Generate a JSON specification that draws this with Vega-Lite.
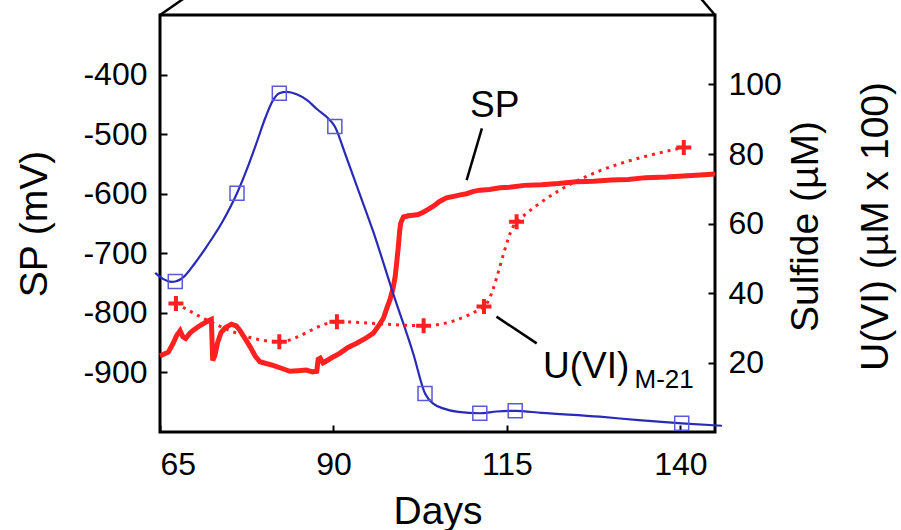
{
  "$schema": "https://vega.github.io/schema/vega-lite/v6.json",
  "width": 555,
  "height": 417,
  "autosize": {"type": "none"},
  "padding": {"left": 160, "top": 15, "right": 186, "bottom": 98},
  "background": "white",
  "config": {
    "font": "Liberation Sans",
    "view": {"stroke": "black", "strokeWidth": 3},
    "axis": {
      "grid": false,
      "domain": false,
      "tickColor": "black",
      "tickWidth": 2,
      "labelColor": "black",
      "titleColor": "black",
      "labelFontSize": 32,
      "titleFontSize": 39,
      "titleFontWeight": "normal",
      "labelFont": "Liberation Sans",
      "titleFont": "Liberation Sans"
    }
  },
  "datasets": {
    "sp": [
      {"day": 65.0, "mv": -872}, {"day": 65.25, "mv": -871}, {"day": 66.2, "mv": -866}, {"day": 66.9, "mv": -851},
      {"day": 67.4, "mv": -838}, {"day": 67.9, "mv": -830}, {"day": 68.3, "mv": -840}, {"day": 68.7, "mv": -843},
      {"day": 69.3, "mv": -834}, {"day": 69.8, "mv": -829}, {"day": 70.7, "mv": -822}, {"day": 71.7, "mv": -815},
      {"day": 72.4, "mv": -811}, {"day": 72.6, "mv": -880}, {"day": 72.9, "mv": -872}, {"day": 73.3, "mv": -850},
      {"day": 73.8, "mv": -833}, {"day": 74.4, "mv": -825}, {"day": 75.3, "mv": -819}, {"day": 76.0, "mv": -822},
      {"day": 76.5, "mv": -829}, {"day": 77.2, "mv": -842}, {"day": 78.0, "mv": -857}, {"day": 78.7, "mv": -872},
      {"day": 79.4, "mv": -882}, {"day": 80.3, "mv": -885}, {"day": 81.3, "mv": -888}, {"day": 82.5, "mv": -893},
      {"day": 83.7, "mv": -898}, {"day": 84.9, "mv": -897}, {"day": 86.1, "mv": -896}, {"day": 87.0, "mv": -899},
      {"day": 87.6, "mv": -898}, {"day": 87.8, "mv": -878}, {"day": 88.1, "mv": -876}, {"day": 88.5, "mv": -884},
      {"day": 88.8, "mv": -882}, {"day": 89.8, "mv": -875}, {"day": 90.9, "mv": -868}, {"day": 92.1, "mv": -858},
      {"day": 93.35, "mv": -851}, {"day": 94.6, "mv": -843}, {"day": 95.75, "mv": -834}, {"day": 96.5, "mv": -822},
      {"day": 97.2, "mv": -809}, {"day": 97.7, "mv": -792}, {"day": 98.15, "mv": -778}, {"day": 98.6, "mv": -758},
      {"day": 98.9, "mv": -739}, {"day": 99.15, "mv": -712}, {"day": 99.35, "mv": -689}, {"day": 99.55, "mv": -662},
      {"day": 99.7, "mv": -649}, {"day": 100.1, "mv": -639}, {"day": 100.8, "mv": -637}, {"day": 101.5, "mv": -636},
      {"day": 102.2, "mv": -635}, {"day": 102.95, "mv": -631}, {"day": 103.7, "mv": -626}, {"day": 104.4, "mv": -621},
      {"day": 105.3, "mv": -613}, {"day": 106.3, "mv": -607}, {"day": 107.5, "mv": -604}, {"day": 108.3, "mv": -602},
      {"day": 109.2, "mv": -600}, {"day": 110.2, "mv": -596}, {"day": 111.1, "mv": -594}, {"day": 112.5, "mv": -593},
      {"day": 114.0, "mv": -590}, {"day": 115.4, "mv": -589}, {"day": 117.5, "mv": -586}, {"day": 120.0, "mv": -585},
      {"day": 122.4, "mv": -583}, {"day": 125.0, "mv": -580}, {"day": 127.5, "mv": -579}, {"day": 130.0, "mv": -577},
      {"day": 132.5, "mv": -576}, {"day": 135.0, "mv": -573}, {"day": 138.0, "mv": -572}, {"day": 141.0, "mv": -570},
      {"day": 143.5, "mv": -568}, {"day": 145.0, "mv": -567}
    ],
    "sulfideCurve": [
      {"day": 64.3, "val": 45.8}, {"day": 65.5, "val": 44.0}, {"day": 66.7, "val": 43.2}, {"day": 67.2, "val": 43.3},
      {"day": 68.5, "val": 44.8}, {"day": 70.0, "val": 48.5}, {"day": 71.7, "val": 53.3}, {"day": 74.0, "val": 60.5},
      {"day": 76.1, "val": 68.7}, {"day": 77.5, "val": 75.5}, {"day": 78.9, "val": 83.1}, {"day": 80.2, "val": 90.5},
      {"day": 81.3, "val": 95.5}, {"day": 82.2, "val": 97.5}, {"day": 83.3, "val": 97.9}, {"day": 84.7, "val": 97.2},
      {"day": 86.2, "val": 95.5}, {"day": 87.7, "val": 92.8}, {"day": 89.0, "val": 90.7}, {"day": 90.2, "val": 87.9},
      {"day": 91.7, "val": 80.0}, {"day": 93.4, "val": 70.6}, {"day": 95.8, "val": 57.3}, {"day": 98.6, "val": 39.9},
      {"day": 101.5, "val": 22.6}, {"day": 103.2, "val": 11.1}, {"day": 104.5, "val": 8.0}, {"day": 105.8, "val": 6.8},
      {"day": 108.0, "val": 5.8}, {"day": 111.1, "val": 5.4}, {"day": 113.5, "val": 5.9}, {"day": 116.2, "val": 6.1},
      {"day": 120.0, "val": 5.5}, {"day": 128.4, "val": 4.4}, {"day": 134.0, "val": 3.4}, {"day": 140.2, "val": 2.5},
      {"day": 146.0, "val": 1.8}
    ],
    "sulfideSamples": [
      {"day": 67.2, "val": 43.3}, {"day": 76.1, "val": 68.7}, {"day": 82.2, "val": 97.5}, {"day": 90.2, "val": 87.9},
      {"day": 103.2, "val": 11.1}, {"day": 111.1, "val": 5.4}, {"day": 116.2, "val": 6.1}, {"day": 140.2, "val": 2.5}
    ],
    "uvi": [
      {"day": 67.3, "val": 37.0}, {"day": 82.2, "val": 26.0}, {"day": 90.5, "val": 31.7}, {"day": 103.0, "val": 30.6},
      {"day": 111.7, "val": 36.1}, {"day": 116.4, "val": 60.5}, {"day": 140.5, "val": 81.9}
    ],
    "lines": [
      {"day": 111.4, "val": 87.4, "day2": 109.2, "val2": 72.5},
      {"day": 113.5, "val": 33.2, "day2": 119.3, "val2": 25.5},
      {"day": 65.0, "val": 120, "day2": 69.7, "val2": 126.5},
      {"day": 145.0, "val": 120, "day2": 142.2, "val2": 126.5}
    ],
    "labels": [
      {"label": "SP", "kind": "main", "day": 109.7, "val": 90.7},
      {"label": "U(VI)", "kind": "main", "day": 120.2, "val": 15.5},
      {"label": "M-21", "kind": "sub", "day": 133.4, "val": 12.6}
    ]
  },
  "layer": [
    {
      "data": {"name": "sp"},
      "mark": {"type": "line", "color": "#ff2020", "strokeWidth": 5},
      "encoding": {
        "x": {
          "field": "day", "type": "quantitative",
          "scale": {"domain": [65, 145], "nice": false, "zero": false},
          "axis": {"values": [65, 90, 115, 140], "tickSize": -7, "labelPadding": 24, "title": "Days", "titlePadding": 12}
        },
        "y": {
          "field": "mv", "type": "quantitative",
          "scale": {"domain": [-1000, -300], "nice": false, "zero": false},
          "axis": {
            "orient": "left",
            "values": [-900, -800, -700, -600, -500, -400],
            "tickSize": -7, "labelPadding": 20,
            "labelExpr": "'' + datum.value",
            "title": "SP (mV)", "titlePadding": 28
          }
        }
      }
    },
    {
      "layer": [
        {
          "data": {"name": "sulfideCurve"},
          "mark": {"type": "line", "interpolate": "monotone", "color": "#2a2ab8", "strokeWidth": 2.2},
          "encoding": {
            "x": {"field": "day", "type": "quantitative", "scale": {"domain": [65, 145], "nice": false, "zero": false}},
            "y": {
              "field": "val", "type": "quantitative",
              "scale": {"domain": [0, 120], "nice": false, "zero": false},
              "axis": {
                "orient": "right",
                "values": [20, 40, 60, 80, 100],
                "tickSize": -7, "labelPadding": 20,
                "title": ["Sulfide (µM)", "U(VI) (µM x 100)"],
                "titleAngle": 270, "titleBaseline": "middle", "titleAlign": "center",
                "titleLineHeight": 70, "titleX": 90, "titleY": 211
              }
            }
          }
        },
        {
          "data": {"name": "sulfideSamples"},
          "mark": {"type": "point", "shape": "square", "filled": false, "size": 196, "stroke": "#5a5ad6", "strokeWidth": 1.5, "opacity": 1},
          "encoding": {
            "x": {"field": "day", "type": "quantitative"},
            "y": {"field": "val", "type": "quantitative"}
          }
        },
        {
          "data": {"name": "uvi"},
          "mark": {"type": "line", "interpolate": "monotone", "color": "#ff2020", "strokeWidth": 3, "strokeDash": [3, 5]},
          "encoding": {
            "x": {"field": "day", "type": "quantitative"},
            "y": {"field": "val", "type": "quantitative"}
          }
        },
        {
          "data": {"name": "uvi"},
          "mark": {"type": "point", "shape": "M-1,0H1M0,-1V1", "filled": false, "size": 225, "stroke": "#ff2020", "strokeWidth": 4, "opacity": 1},
          "encoding": {
            "x": {"field": "day", "type": "quantitative"},
            "y": {"field": "val", "type": "quantitative"}
          }
        },
        {
          "data": {"name": "lines"},
          "mark": {"type": "rule", "color": "black", "strokeWidth": 2.5},
          "encoding": {
            "x": {"field": "day", "type": "quantitative"},
            "y": {"field": "val", "type": "quantitative"},
            "x2": {"field": "day2"},
            "y2": {"field": "val2"}
          }
        },
        {
          "data": {"name": "labels"},
          "transform": [{"filter": "datum.kind == 'main'"}],
          "mark": {"type": "text", "align": "left", "baseline": "alphabetic", "fontSize": 37, "color": "black"},
          "encoding": {
            "x": {"field": "day", "type": "quantitative"},
            "y": {"field": "val", "type": "quantitative"},
            "text": {"field": "label"}
          }
        },
        {
          "data": {"name": "labels"},
          "transform": [{"filter": "datum.kind == 'sub'"}],
          "mark": {"type": "text", "align": "left", "baseline": "alphabetic", "fontSize": 26, "color": "black"},
          "encoding": {
            "x": {"field": "day", "type": "quantitative"},
            "y": {"field": "val", "type": "quantitative"},
            "text": {"field": "label"}
          }
        }
      ]
    }
  ],
  "resolve": {"scale": {"y": "independent"}}
}
